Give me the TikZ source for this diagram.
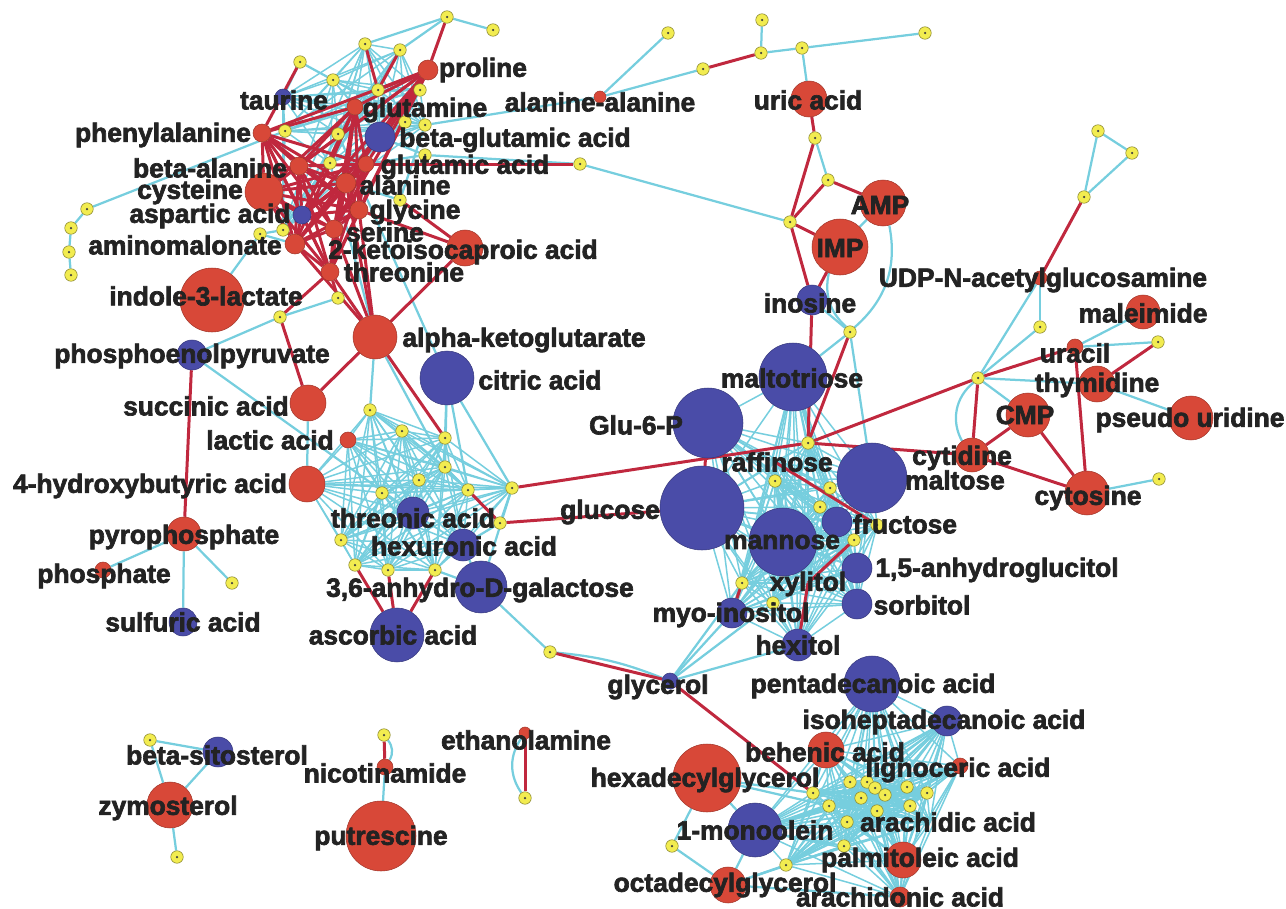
\documentclass[tikz,border=0pt]{standalone}
\usepackage{fontspec}
\newfontfamily\labfont[FakeBold=2.5]{Liberation Sans Bold}
\usepackage{tikz}
\usetikzlibrary{positioning}
\pgfdeclarelayer{links}
\pgfsetlayers{links,main}

\definecolor{metred}{RGB}{216,72,56}
\definecolor{metblue}{RGB}{74,76,168}
\definecolor{hubyellow}{RGB}{242,236,80}
\definecolor{linkcyan}{RGB}{118,206,222}
\definecolor{linkred}{RGB}{192,40,62}
\definecolor{labgray}{RGB}{35,35,35}

\tikzset{
  redmet/.style={circle, fill=metred, draw=metred!75!black, line width=0.3pt, inner sep=0pt},
  bluemet/.style={circle, fill=metblue, draw=metblue!75!black, line width=0.3pt, inner sep=0pt},
  hub/.style={circle, fill=hubyellow, draw=hubyellow!55!black, line width=0.3pt,
    minimum size=2.5mm, inner sep=0pt,
    path picture={\fill[black!75] (path picture bounding box.center) circle (0.25mm);}},
  cyanlink/.style={draw=linkcyan, line width=0.45mm},
  meshlink/.style={draw=linkcyan, line width=0.3mm},
  redlink/.style={draw=linkred, line width=0.6mm},
  metlabel/.style={text=labgray, inner sep=0pt,
    font=\labfont\fontsize{15}{15}\selectfont}
}

\def\aminolist{phe,bala,cys,asp,amal,gln,glu,ala,gly,ser,thr,pro}
\def\toplist{y6,y8,y11,y12,y13,y14,y15,y16,y17,y20,y21,tau,bglu,gln}
\def\sugarlist{g6p,mtri,raf,glc,malt,man,fru,ahgl,xyl,sor,myo,hex,y42,y43,y44,y45,y46,y47,y48,y49}
\def\midlist{lac,hba,thra,hexu,y50,y51,y52,y53,y54,y55,y56,y57,y59,y60,y61,y62}
\def\fattylist{pdc,ihd,behe,ligno,arac,mono,palm,arad,y70,y71,y72,y73,y74,y75,y76,y77,y78,y79,y80,y81,y82,y83}

\begin{document}
\begin{tikzpicture}[x=0.2mm,y=-0.2mm]
\useasboundingbox (0,0) rectangle (1286,909);

% hubs
\foreach \nm/\px/\py in {1/300/62, 2/87/209, 3/71/228, 4/69/252, 5/71/275, 6/285/131,
  7/260/234, 8/283/230, 9/447/17, 10/493/30, 11/365/44, 12/400/50, 13/333/80,
  14/378/90, 15/420/90, 16/405/122, 17/425/125, 18/425/155, 19/580/164, 20/338/134,
  21/330/163, 22/400/200, 23/338/298, 24/280/317, 25/668/33, 26/762/20, 27/761/53,
  28/802/48, 29/925/33, 30/703/69, 31/815/138, 32/828/180, 33/790/222, 34/1098/131,
  35/1132/153, 36/1084/197, 37/1040/327, 38/1158/342, 39/978/378, 40/1159/479,
  41/850/332, 42/808/443, 43/775/481, 44/830/488, 45/820/507, 46/877/525, 47/854/540,
  48/742/583, 49/773/603, 50/370/410, 51/402/431, 52/445/438, 53/445/467, 54/419/480,
  55/382/493, 56/468/490, 57/512/488, 58/500/523, 59/341/540, 60/355/565, 61/388/570,
  62/435/570, 63/232/583, 64/550/652, 65/150/740, 66/177/857, 67/384/735, 68/525/798,
  69/672/846, 70/813/793, 71/850/782, 72/867/782, 73/875/788, 74/885/795, 75/861/798,
  76/829/806, 77/907/787, 78/927/793, 79/910/806, 80/877/811, 81/847/822, 82/844/846,
  83/786/865}
  \node[hub] (y\nm) at (\px,\py) {};

% metabolites
\foreach \nm/\px/\py/\rad in {pro/428/70/10, gln/355/107/8, aala/600/97/6, phe/262/133/9,
  glu/366/164/8, bala/299/166/9, ala/346/183/10, cys/264/192/19, gly/359/210/9,
  amal/295/244/10, ser/334/229/9, kic/465/248/18, thr/330/272/9, ind/212/300/32,
  akg/375/337/22, suc/308/403/18, lac/348/440/8, hba/307/484/18, ppi/184/534/17,
  pho/103/570/8, uric/809/99/18, imp/840/247/28, amp/883/203/23, udp/1040/278/7,
  mal/1143/312/17, ura/1075/347/8, thy/1097/384/18, psu/1191/418/22, cmp/1028/415/22,
  cyd/972/455/17, cyt/1087/493/22, behe/826/750/18, ligno/960/766/8, hdg/707/778/34,
  palm/903/860/18, odg/728/885/18, arad/900/897/10, zym/170/805/23, nic/385/767/8,
  put/381/836/35, eth/525/733/6}
  \node[redmet, minimum size=\rad*0.4mm] (\nm) at (\px,\py) {};
\foreach \nm/\px/\py/\rad in {tau/283/97/8, bglu/380/137/15, asp/302/215/9, pep/192/355/15,
  cit/447/378/27, thra/413/513/16, hexu/463/545/16, ahg/481/587/26, asc/397/635/27,
  gly3/670/681/8, g6p/708/423/35, mtri/793/377/34, glc/702/508/42, malt/872/478/35,
  man/783/542/34, fru/837/522/15, ahgl/857/568/15, sor/857/604/15, myo/732/613/15,
  hex/798/645/16, ino/812/300/15, pdc/872/684/28, ihd/947/721/15, mono/755/830/27,
  sulf/183/622/14, bsit/218/752/15}
  \node[bluemet, minimum size=\rad*0.4mm] (\nm) at (\px,\py) {};
\coordinate (raf) at (775,462);
\coordinate (xyl) at (808,583);
\coordinate (arac) at (930,822);

% labels
\foreach \nm/\px/\py/\lab in {pro/483/70/proline, gln/425/110/glutamine, tau/284/100/taurine,
  aala/600/102/alanine-alanine, bglu/515/140/beta-glutamic acid, phe/163/135/phenylalanine,
  glu/465/167/glutamic acid, bala/210/168/beta-alanine, ala/405/185/alanine,
  cys/190/192/cysteine, asp/210/216/aspartic acid, gly/415/212/glycine,
  amal/185/245/aminomalonate, ser/385/232/serine, kic/463/252/2-ketoisocaproic acid,
  thr/404/272/threonine, ind/206/296/indole-3-lactate, akg/524/340/alpha-ketoglutarate,
  cit/540/380/citric acid, pep/192/356/phosphoenolpyruvate, suc/206/406/succinic acid,
  lac/270/440/lactic acid, hba/150/486/4-hydroxybutyric acid, ppi/184/537/pyrophosphate,
  pho/104/576/phosphate, sulf/183/622/sulfuric acid, thra/413/518/threonic acid,
  hexu/464/546/hexuronic acid, ahg/480/590/{3,6-anhydro-D-galactose},
  asc/393/635/ascorbic acid, gly3/658/687/glycerol, g6p/636/425/Glu-6-P,
  mtri/792/378/maltotriose, raf/777/462/raffinose, glc/610/512/glucose,
  malt/955/480/maltose, man/782/542/mannose, fru/905/524/fructose,
  ahgl/997/570/{1,5-anhydroglucitol}, xyl/808/584/xylitol, sor/922/605/sorbitol,
  myo/731/615/myo-inositol, hex/798/645/hexitol, ino/810/303/inosine, imp/840/248/IMP,
  amp/880/205/AMP, uric/808/100/uric acid, udp/1043/280/UDP-N-acetylglucosamine,
  mal/1143/313/maleimide, ura/1075/353/uracil, thy/1097/385/thymidine,
  psu/1190/420/pseudo uridine, cmp/1025/415/CMP, cyd/962/458/cytidine,
  cyt/1088/498/cytosine, pdc/873/686/pentadecanoic acid, ihd/944/722/isoheptadecanoic acid,
  behe/825/752/behenic acid, ligno/958/770/lignoceric acid, hdg/705/780/hexadecylglycerol,
  arac/948/822/arachidic acid, mono/755/830/1-monoolein, palm/920/860/palmitoleic acid,
  odg/725/885/octadecylglycerol, arad/900/897/arachidonic acid,
  bsit/217/755/beta-sitosterol, zym/168/808/zymosterol, nic/385/773/nicotinamide,
  put/381/838/putrescine, eth/526/740/ethanolamine}
  \node[metlabel] (l\nm) at (\px,\py) {\lab};

\begin{pgfonlayer}{links}
% dense clusters
\foreach \a [count=\i] in \toplist
  \foreach \b [count=\j] in \toplist
    {\ifnum\j>\i \draw[meshlink] (\a) -- (\b); \fi}
\foreach \a [count=\i] in \sugarlist
  \foreach \b [count=\j] in \sugarlist
    {\ifnum\j>\i \draw[meshlink] (\a) -- (\b); \fi}
\foreach \a [count=\i] in \midlist
  \foreach \b [count=\j] in \midlist
    {\ifnum\j>\i \draw[meshlink] (\a) -- (\b); \fi}
\foreach \a [count=\i] in \fattylist
  \foreach \b [count=\j] in \fattylist
    {\ifnum\j>\i \draw[meshlink] (\a) -- (\b); \fi}

\foreach \a/\b in {y2/y3, y3/y4, y4/y5, y2/y6, y1/tau, y1/y13, y9/y10, y9/y11, y9/y12,
  y18/bglu, y18/glu, y18/y19, y22/ala, y22/y17, y8/asp, y8/y7, y7/ind, y7/amal,
  y17/aala, aala/y25, aala/y30, y19/y33, y27/y26, y27/y28, y28/y29, y28/uric,
  y31/y32, amp/imp, ino/y41, y41/malt, y41/mtri, y34/y35, y35/y36, y34/y36,
  udp/y39, udp/y37, y37/y39, y39/cmp, y39/thy, mal/ura, ura/y38, thy/psu, cyt/y40,
  gly3/myo, gly3/y48, gly3/hex, gly3/y49, y64/ahg, suc/hba, pep/thra, pep/y24,
  y24/y23, akg/y53, akg/y50, cit/y52, cit/y53, cit/y56, cit/y57, y57/ahg, hexu/ahg,
  y62/ahg, y21/akg, y20/cit, y58/y57, y58/hexu, y58/y53, hdg/y70, hdg/y76,
  hdg/mono, hdg/y69, odg/y69, odg/mono, odg/y83, odg/y82, odg/arad, mono/y82,
  mono/y76, bsit/zym, bsit/y65, y65/zym, zym/y66, nic/put, pho/ppi, ppi/sulf, ppi/y63}
  \draw[cyanlink] (\a) -- (\b);
\draw[cyanlink] (imp) to[bend right=30] (y41);
\draw[cyanlink] (amp) to[bend left=30] (y41);
\draw[cyanlink] (y39) to[bend right=40] (cyd);
\draw[cyanlink] (y64) to[bend left=8] (gly3);
\draw[cyanlink] (nic) to[bend right=35] (y67);
\draw[cyanlink] (eth) to[bend right=35] (y68);

\foreach \a [count=\i] in \aminolist
  \foreach \b [count=\j] in \aminolist
    {\ifnum\j>\i \draw[redlink] (\a) -- (\b); \fi}
\foreach \a/\b in {akg/thr, akg/ser, akg/gly, akg/amal, akg/ala, akg/kic, akg/y52,
  akg/suc, suc/y24, y24/thr, pep/ppi, y23/thr, glu/y19, pro/y9, y11/y14, y12/y14,
  y14/pro, y1/phe, kic/gly, kic/y22, y30/y27, uric/y31, y31/y33, y32/amp, y32/y33,
  y33/imp, y33/ino, imp/ino, ino/y42, y41/y42, y42/y39, y42/cyd, y42/y57, y58/glc,
  y56/y58, udp/y36, y39/ura, y39/cyd, cyd/cmp, cyd/cyt, cmp/cyt, ura/cyt, thy/y38,
  raf/y46, y47/xyl, y48/myo, xyl/hex, g6p/glc, y60/asc, y61/asc, y62/asc, y64/gly3,
  gly3/y70, nic/y67, eth/y68}
  \draw[redlink] (\a) -- (\b);
\end{pgfonlayer}
\end{tikzpicture}
\end{document}
